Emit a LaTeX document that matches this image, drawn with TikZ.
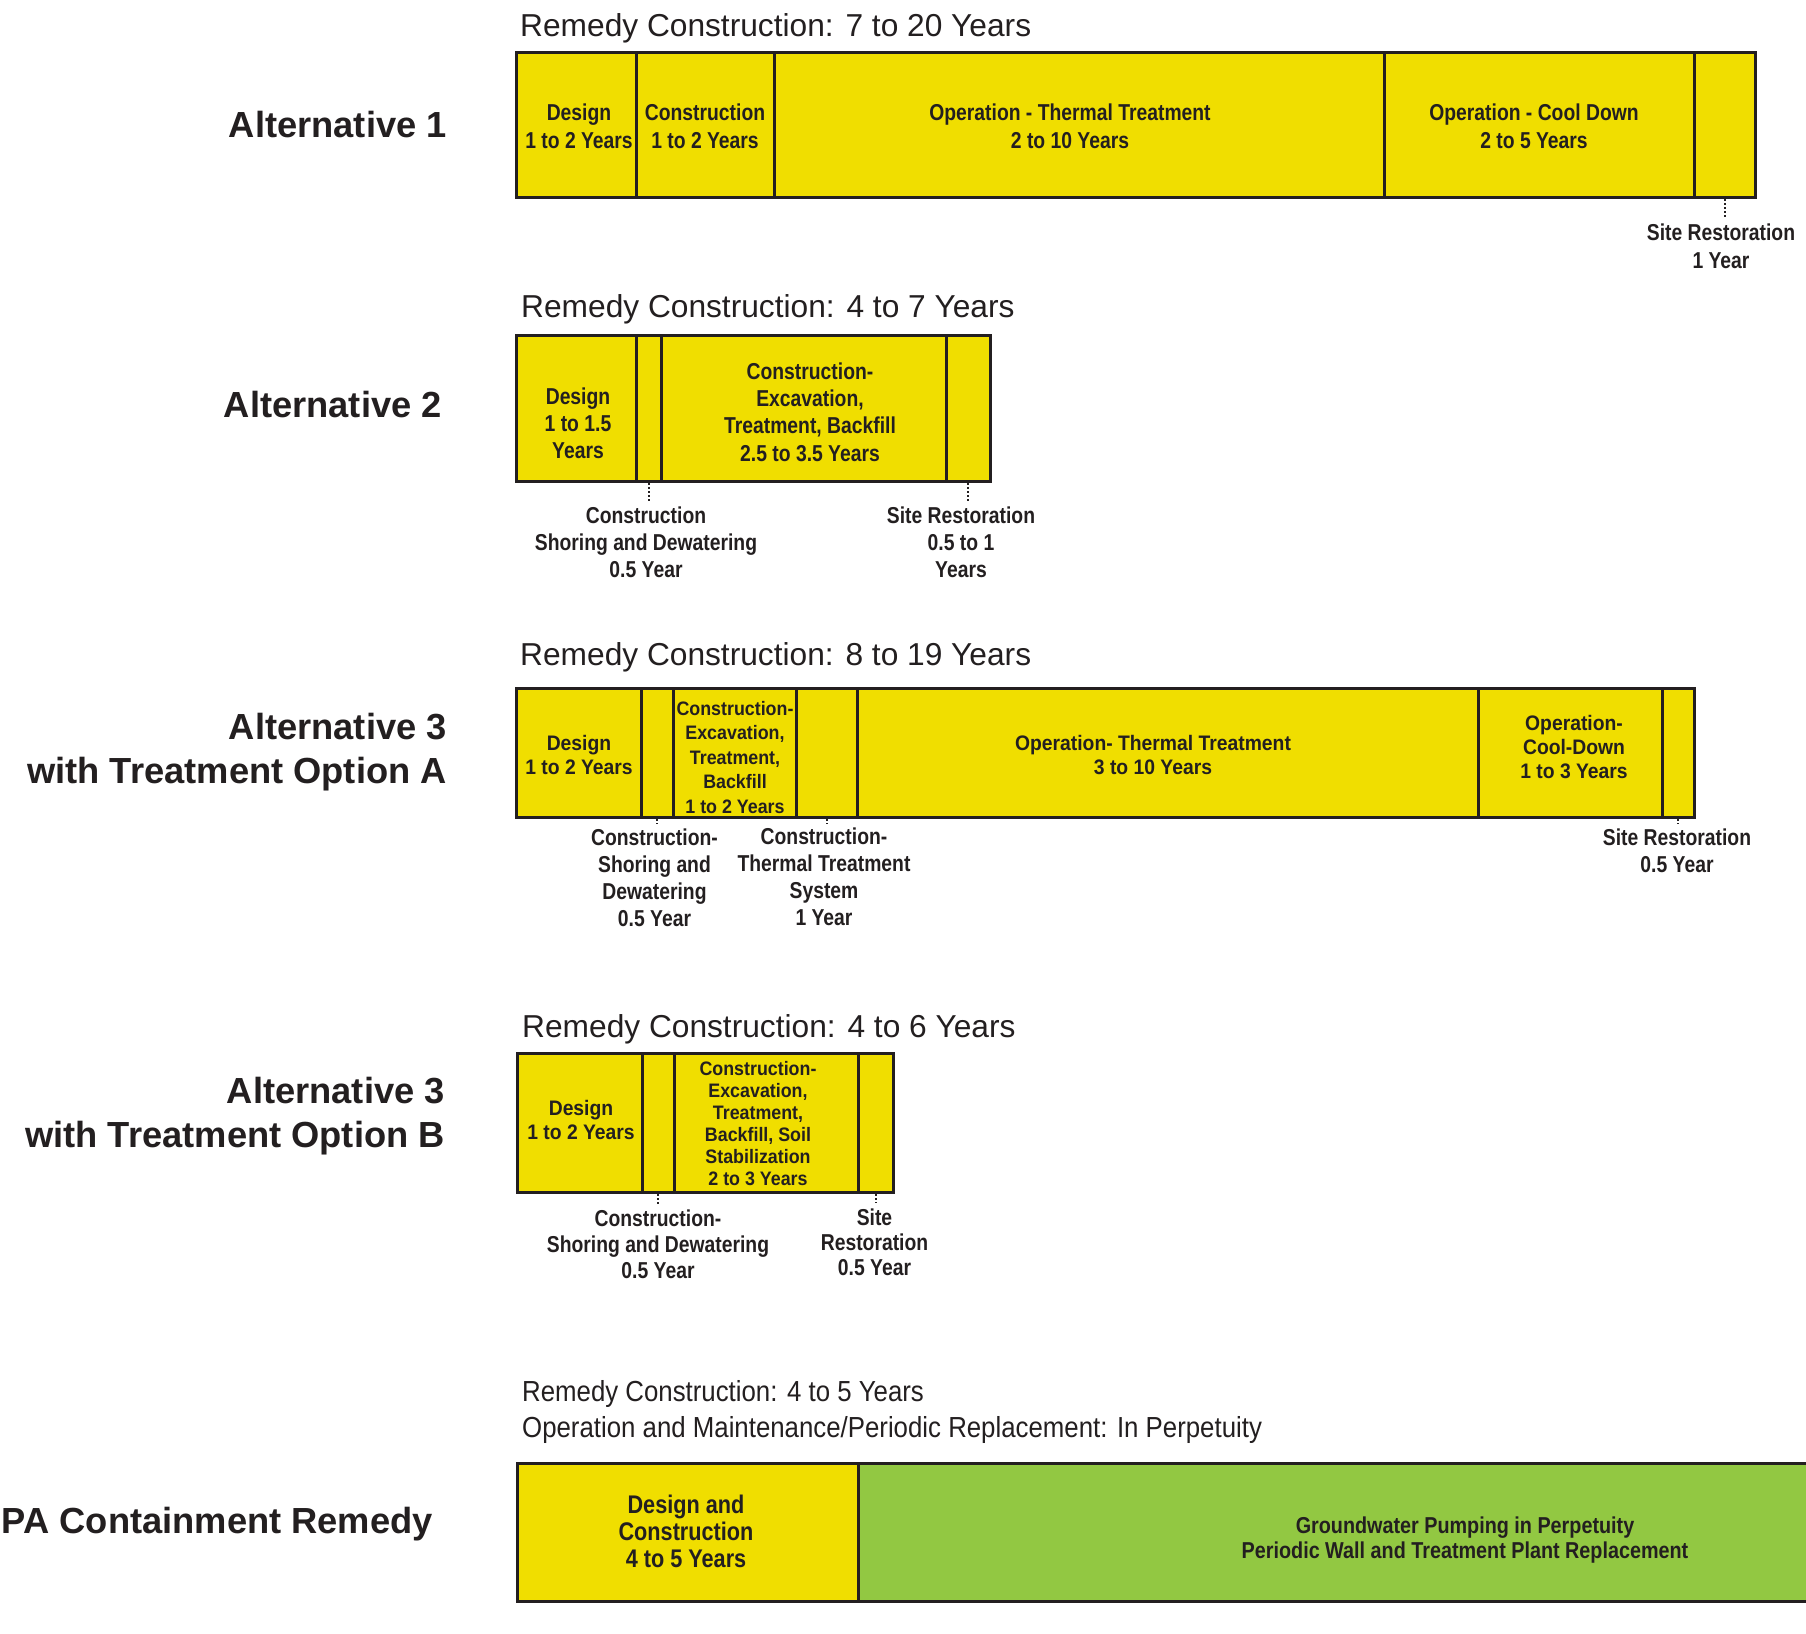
\documentclass[tikz,border=0pt]{standalone}
\usepackage{fontspec}
\setmainfont{Liberation Sans}
\newfontfamily\fontA[FakeStretch=0.84]{Liberation Sans}
\newfontfamily\fontB[FakeStretch=0.92]{Liberation Sans}
\newfontfamily\fontC[FakeStretch=0.915]{Liberation Sans}
\newfontfamily\fontE[FakeStretch=0.85]{Liberation Sans}
\newfontfamily\fontG[FakeStretch=0.86]{Liberation Sans}
\newfontfamily\fontT[FakeStretch=0.89]{Liberation Sans}
\definecolor{segyellow}{RGB}{240,222,0}
\definecolor{seggreen}{RGB}{146,200,66}
\definecolor{ink}{RGB}{35,31,32}
\tikzset{
  segbox/.style={rectangle, draw=ink, line width=3pt, fill=segyellow, inner sep=0pt, outer sep=0pt},
  altname/.style={font=\bfseries\fontsize{36.3}{43.5}\selectfont, text=ink, inner sep=0pt, anchor=base east, align=right},
  remedy/.style={font=\fontsize{31.7}{38}\selectfont, text=ink, inner sep=0pt, anchor=base west},
  remedyN/.style={font=\fontT\fontsize{29}{36}\selectfont, text=ink, inner sep=0pt, anchor=base west, align=left},
  txtA/.style={font=\fontA\bfseries\fontsize{23}{#1}\selectfont, text=ink, inner sep=0pt, anchor=base, align=center},
  txtA/.default=27,
  txtB/.style={font=\fontB\bfseries\fontsize{21}{#1}\selectfont, text=ink, inner sep=0pt, anchor=base, align=center},
  txtB/.default=24,
  txtC/.style={font=\fontC\bfseries\fontsize{19.5}{#1}\selectfont, text=ink, inner sep=0pt, anchor=base, align=center},
  txtC/.default=24,
  txtE/.style={font=\fontE\bfseries\fontsize{25.5}{#1}\selectfont, text=ink, inner sep=0pt, anchor=base, align=center},
  txtE/.default=27,
  txtG/.style={font=\fontG\bfseries\fontsize{23}{#1}\selectfont, text=ink, inner sep=0pt, anchor=base, align=center},
  txtG/.default=25,
  dotcon/.style={draw=ink, line width=2pt, dash pattern=on 2pt off 2pt, shorten <=2pt, shorten >=5pt},
}
% node anchors (base) are the baseline of the LAST line of each text
\newcommand\barseg[6][]{\node[segbox,#1, minimum width={#4-#3}, minimum height={#6-#5}] (#2) at ({(#3+#4)/2},{(#5+#6)/2}) {};}
\begin{document}
\begin{tikzpicture}[x=1pt,y=-1pt]
\fill[white] (0,0) rectangle (1806,1633);
\useasboundingbox (0,0) rectangle (1806,1633);

% ---------- Alternative 1 ----------
\node[altname] (n1) at (447,137) {Alternative 1};
\node[remedy] (r1) at (520,36) {Remedy Construction: 7 to 20 Years};
\barseg{s1a}{516}{636}{52}{197}
\barseg{s1b}{636}{774}{52}{197}
\barseg{s1c}{774}{1384}{52}{197}
\barseg{s1d}{1384}{1694}{52}{197}
\barseg{s1e}{1694}{1755}{52}{197}
\node[txtA=28] (t1a) at (579,148) {Design\\1 to 2 Years};
\node[txtA=28] (t1b) at (705,148) {Construction\\1 to 2 Years};
\node[txtA=28] (t1c) at (1070,148) {Operation - Thermal Treatment\\2 to 10 Years};
\node[txtA=28] (t1d) at (1534,148) {Operation - Cool Down\\2 to 5 Years};
\node[txtA=28] (l1e) at (1721,268) {Site Restoration\\1 Year};
\draw[dotcon] (s1e.south) -- (s1e.south |- l1e.north);

% ---------- Alternative 2 ----------
\node[altname] (n2) at (442,417) {Alternative 2};
\node[remedy] (r2) at (521,317) {Remedy Construction: 4 to 7 Years};
\barseg{s2a}{516}{636}{335}{481}
\barseg{s2b}{636}{661}{335}{481}
\barseg{s2c}{661}{946}{335}{481}
\barseg{s2d}{946}{990}{335}{481}
\node[txtA=27] (t2a) at (578,458) {Design\\1 to 1.5\\Years};
\node[txtA=27.3] (t2c) at (810,461) {Construction-\\Excavation,\\Treatment, Backfill\\2.5 to 3.5 Years};
\node[txtA=27] (l2b) at (646,577) {Construction\\Shoring and Dewatering\\0.5 Year};
\node[txtA=27] (l2d) at (961,577) {Site Restoration\\0.5 to 1\\Years};
\draw[dotcon] (s2b.south) -- (s2b.south |- l2b.north);
\draw[dotcon] (s2d.south) -- (s2d.south |- l2d.north);

% ---------- Alternative 3 A ----------
\node[altname] (n3a) at (447,783) {Alternative 3\\with Treatment Option A};
\node[remedy] (r3a) at (520,665) {Remedy Construction: 8 to 19 Years};
\barseg{s3a}{516}{641}{688}{817}
\barseg{s3b}{641}{673}{688}{817}
\barseg{s3c}{673}{796}{688}{817}
\barseg{s3d}{796}{857}{688}{817}
\barseg{s3e}{857}{1478}{688}{817}
\barseg{s3f}{1478}{1662}{688}{817}
\barseg{s3g}{1662}{1694}{688}{817}
\node[txtB=24] (t3a) at (579,774) {Design\\1 to 2 Years};
\node[txtC=24.5] (t3c) at (735,813) {Construction-\\Excavation,\\Treatment,\\Backfill\\1 to 2 Years};
\node[txtB=24] (t3e) at (1153,774) {Operation- Thermal Treatment\\3 to 10 Years};
\node[txtB=24] (t3f) at (1574,778) {Operation-\\Cool-Down\\1 to 3 Years};
\node[txtA=26.7] (l3b) at (654.5,926) {Construction-\\Shoring and\\Dewatering\\0.5 Year};
\node[txtA=26.7] (l3d) at (824,925) {Construction-\\Thermal Treatment\\System\\1 Year};
\node[txtA=27] (l3g) at (1677,872) {Site Restoration\\0.5 Year};
\draw[dotcon] (s3b.south) -- (s3b.south |- l3b.north);
\draw[dotcon] (s3d.south) -- (s3d.south |- l3d.north);
\draw[dotcon] (s3g.south) -- (s3g.south |- l3g.north);

% ---------- Alternative 3 B ----------
\node[altname] (n3b) at (445,1147) {Alternative 3\\with Treatment Option B};
\node[remedy] (r3b) at (522,1037) {Remedy Construction: 4 to 6 Years};
\barseg{s4a}{517}{642}{1053}{1192}
\barseg{s4b}{642}{674}{1053}{1192}
\barseg{s4c}{674}{858}{1053}{1192}
\barseg{s4d}{858}{893}{1053}{1192}
\node[txtB=24] (t4a) at (581,1139) {Design\\1 to 2 Years};
\node[txtC=22] (t4c) at (758,1185) {Construction-\\Excavation,\\Treatment,\\Backfill, Soil\\Stabilization\\2 to 3 Years};
\node[txtA=26] (l4b) at (658,1278) {Construction-\\Shoring and Dewatering\\0.5 Year};
\node[txtA=25] (l4d) at (874.5,1275) {Site\\Restoration\\0.5 Year};
\draw[dotcon] (s4b.south) -- (s4b.south |- l4b.north);
\draw[dotcon] (s4d.south) -- (s4d.south |- l4d.north);

% ---------- EPA Containment Remedy ----------
\node[altname] (n5) at (433,1533) {EPA Containment Remedy};
\node[remedyN] (r5) at (522,1437) {Remedy Construction: 4 to 5 Years\\Operation and Maintenance/Periodic Replacement: In Perpetuity};
\barseg{s5a}{517}{858}{1463}{1601}
\barseg[fill=seggreen]{s5b}{858}{1830}{1463}{1601}
\node[txtE=27] (t5a) at (686,1567) {Design and\\Construction\\4 to 5 Years};
\node[txtG=25] (t5b) at (1465,1558) {Groundwater Pumping in Perpetuity\\Periodic Wall and Treatment Plant Replacement};
\end{tikzpicture}
\end{document}
